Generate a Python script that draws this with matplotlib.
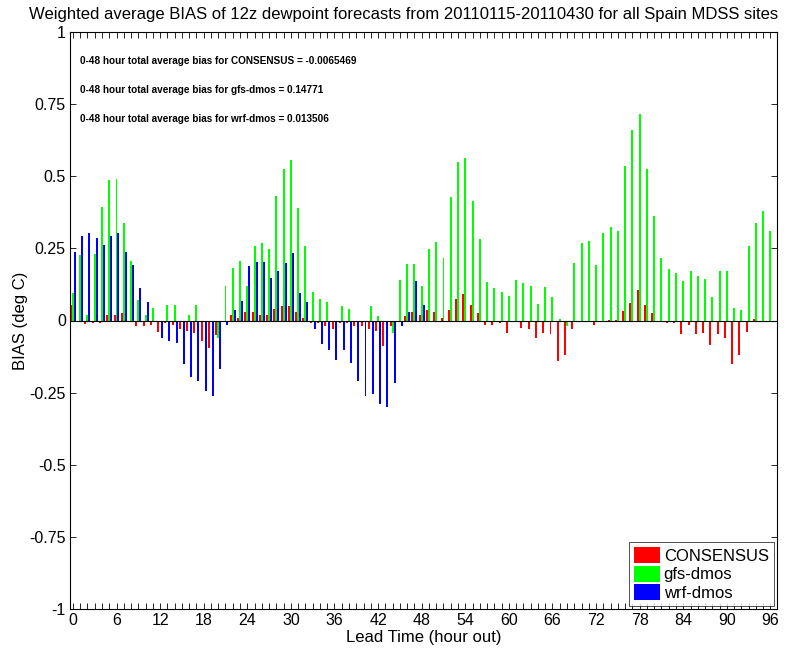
import numpy as np
import matplotlib
matplotlib.use("Agg")
import matplotlib.pyplot as plt
from matplotlib.patches import Patch

plt.rcParams['font.family'] = ['Liberation Sans', 'DejaVu Sans']

# Lead times (hours) and mean dewpoint bias for each forecast source
lead_hours = list(range(0, 97))

consensus_bias = [
    0.055, -0.005, -0.012, -0.010, -0.010, 0.020, 0.020, 0.025, 0.000, -0.020,
    -0.020, -0.015, -0.040, -0.010, -0.015, -0.030, -0.037, -0.045, -0.070, -0.095,
    -0.050, 0.000, 0.020, 0.010, 0.030, 0.030, 0.020, 0.020, 0.040, 0.050,
    0.050, 0.030, 0.010, -0.010, -0.010, -0.020, -0.030, -0.010, -0.010, -0.020,
    -0.020, -0.030, -0.037, -0.089, -0.020, 0.000, 0.015, 0.030, 0.020, 0.038,
    0.030, 0.010, 0.038, 0.073, 0.093, 0.052, 0.027, -0.017, -0.014, -0.008,
    -0.043, 0.000, -0.025, -0.030, -0.060, -0.043, -0.046, -0.141, -0.118, -0.031,
    0.000, 0.000, -0.016, 0.000, 0.003, 0.003, 0.032, 0.061, 0.104, 0.053,
    0.027, 0.000, -0.008, -0.010, -0.046, -0.014, -0.046, -0.043, -0.085, -0.048,
    -0.060, -0.150, -0.118, -0.039, 0.005, 0.000, -0.003,
]

gfs_bias = [
    0.095, 0.228, 0.020, 0.232, 0.395, 0.487, 0.490, 0.337, 0.205, 0.070,
    0.020, 0.044, 0.000, 0.053, 0.053, 0.000, 0.020, 0.053, 0.000, 0.000,
    -0.060, 0.119, 0.182, 0.205, 0.119, 0.257, 0.270, 0.248, 0.430, 0.524,
    0.556, 0.390, 0.257, 0.100, 0.075, 0.063, 0.000, 0.050, 0.040, 0.000,
    0.000, 0.050, 0.015, 0.000, -0.043, 0.142, 0.197, 0.197, 0.119, 0.248,
    0.271, 0.217, 0.428, 0.548, 0.563, 0.413, 0.283, 0.133, 0.113, 0.100,
    0.084, 0.142, 0.130, 0.119, 0.058, 0.115, 0.081, 0.005, -0.020, 0.200,
    0.269, 0.275, 0.194, 0.303, 0.323, 0.309, 0.534, 0.661, 0.715, 0.526,
    0.361, 0.217, 0.180, 0.165, 0.136, 0.171, 0.153, 0.145, 0.081, 0.171,
    0.171, 0.044, 0.038, 0.257, 0.338, 0.378, 0.309,
]

wrf_bias = [
    0.236, 0.294, 0.303, 0.286, 0.263, 0.294, 0.303, 0.236, 0.194, 0.113,
    0.063, 0.000, -0.060, -0.071, -0.077, -0.152, -0.195, -0.210, -0.244, -0.262,
    -0.168, -0.014, 0.038, 0.067, 0.188, 0.202, 0.202, 0.147, 0.170, 0.200,
    0.234, 0.096, 0.063, -0.030, -0.083, -0.103, -0.137, -0.103, -0.146, -0.210,
    -0.260, -0.256, -0.290, -0.300, -0.216, -0.020, 0.030, 0.136, 0.052,
] + [np.nan] * 48

series_names = ['CONSENSUS', 'gfs-dmos', 'wrf-dmos']
series_colors = ['#ff0000', '#00ff00', '#0000ff']
avg_text = [
    '0-48 hour total average bias for CONSENSUS = -0.0065469',
    '0-48 hour total average bias for gfs-dmos = 0.14771',
    '0-48 hour total average bias for wrf-dmos = 0.013506',
]

x_ticks = list(range(0, 97))
x_labels = [str(h) if h % 6 == 0 else '' for h in x_ticks]
y_ticks = [-1, -0.75, -0.5, -0.25, 0, 0.25, 0.5, 0.75, 1]
y_labels = ['-1', '-0.75', '-0.5', '-0.25', '0', '0.25', '0.5', '0.75', '1']

fig = plt.figure(figsize=(7.86, 6.5), dpi=100)
ax = fig.add_axes([70 / 786, 1 - 609 / 650, (777 - 70) / 786, (609 - 32) / 650])

x = np.array(lead_hours, dtype=float)
bw = 0.27
for k, (vals, color) in enumerate(zip([consensus_bias, gfs_bias, wrf_bias], series_colors)):
    ax.bar(x + (k - 1) * bw, vals, width=bw, color=color, edgecolor='none', zorder=2)

ax.axhline(0, color='black', linewidth=0.8, zorder=3)

ax.set_xlim(-0.4, 96.9)
ax.set_ylim(-1, 1)
ax.set_xticks(x_ticks)
ax.set_xticklabels(x_labels, fontsize=11.5)
ax.set_yticks(y_ticks)
ax.set_yticklabels(y_labels, fontsize=11.5)
ax.tick_params(axis='both', direction='in', length=4, width=0.6,
               top=True, right=True, pad=3)
for s in ax.spines.values():
    s.set_linewidth(0.8)

ax.set_xlabel('Lead Time (hour out)', fontsize=12, labelpad=1)
ax.set_ylabel('BIAS (deg C)', fontsize=12, labelpad=1)

for t, yv in zip(avg_text, [0.9, 0.8, 0.7]):
    ax.text(1.0, yv, t, fontsize=7.2, fontweight='bold', va='center', ha='left')

fig.text(0.514, 1 - 14 / 650, 'Weighted average BIAS of 12z dewpoint forecasts from 20110115-20110430 for all Spain MDSS sites',
         ha='center', va='center', fontsize=12.0)

handles = [Patch(facecolor=c, edgecolor='none') for c in series_colors]
leg = ax.legend(handles, series_names, loc='lower right', fontsize=12,
                frameon=True, fancybox=False, borderpad=0.3, handlelength=1.6,
                handleheight=1.1, handletextpad=0.2, labelspacing=0.1,
                borderaxespad=0.2)
leg.get_frame().set_edgecolor('black')
leg.get_frame().set_linewidth(0.6)

fig.savefig('out.png', dpi=100, facecolor='white')
